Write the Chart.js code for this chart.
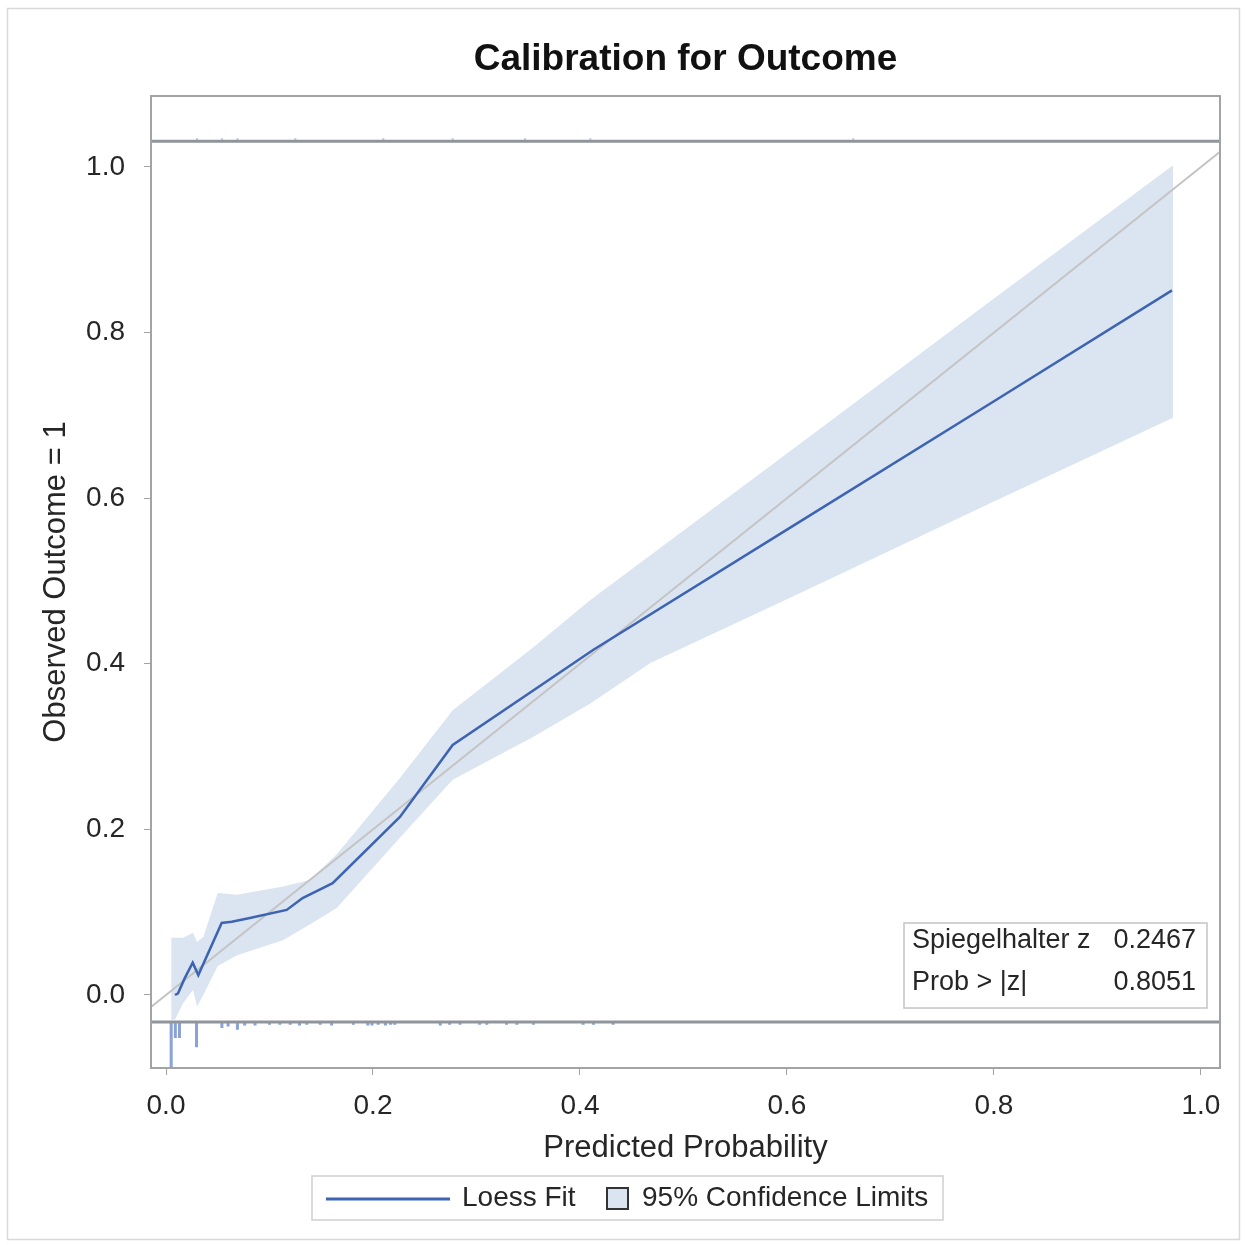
<!DOCTYPE html>
<html><head><meta charset="utf-8">
<script src="https://cdn.jsdelivr.net/npm/chart.js@4.4.1/dist/chart.umd.min.js"></script>
<style>html,body{margin:0;padding:0;background:#fff;}#wrap{width:1247px;height:1245px;position:relative}</style>
</head><body><div id="wrap"><canvas id="c" width="1247" height="1245"></canvas></div>
<script>
const titleText = 'Calibration for Outcome';
const xTitle = 'Predicted Probability';
const yTitle = 'Observed Outcome = 1';
const xTicks = [0, 0.2, 0.4, 0.6, 0.8, 1.0];
const yTicks = [0, 0.2, 0.4, 0.6, 0.8, 1.0];
const xRange = [-0.0145, 1.0184];
const yRange = [-0.0882, 1.0857];

const loessX = [0.0087, 0.0116, 0.018, 0.0258, 0.0312, 0.0538, 0.0635, 0.081, 0.1166, 0.132, 0.161, 0.226, 0.277, 0.413, 0.6, 0.8, 0.972];
const loessY = [0.000, 0.002, 0.020, 0.039, 0.024, 0.087, 0.0885, 0.093, 0.1027, 0.117, 0.135, 0.215, 0.302, 0.417, 0.562, 0.717, 0.851];

const bandX = [0.005, 0.0087, 0.0164, 0.0261, 0.030, 0.036, 0.050, 0.0686, 0.113, 0.139, 0.165, 0.226, 0.277, 0.355, 0.41, 0.468, 0.6, 0.8, 0.973];
const bandLower = [-0.030, -0.030, -0.010, 0.006, -0.014, 0.000, 0.035, 0.048, 0.066, 0.085, 0.105, 0.190, 0.260, 0.312, 0.352, 0.401, 0.478, 0.596, 0.697];
const bandUpper = [0.069, 0.069, 0.069, 0.075, 0.064, 0.070, 0.123, 0.121, 0.131, 0.139, 0.170, 0.262, 0.344, 0.420, 0.477, 0.531, 0.654, 0.841, 1.002];

const refLine = [-0.0145, 1.0184];

const rugBottomBase = -0.0326;
const rug0X = [0.005, 0.009, 0.013, 0.0295, 0.054, 0.060, 0.069, 0.076, 0.086, 0.100, 0.110, 0.120, 0.129, 0.136, 0.149, 0.160, 0.181, 0.195, 0.199, 0.205, 0.212, 0.217, 0.221, 0.265, 0.274, 0.284, 0.303, 0.310, 0.329, 0.339, 0.355, 0.403, 0.413, 0.432];
const rug0Tip = [-0.088, -0.052, -0.052, -0.063, -0.040, -0.038, -0.042, -0.037, -0.037, -0.036, -0.036, -0.036, -0.037, -0.036, -0.036, -0.037, -0.036, -0.037, -0.037, -0.036, -0.037, -0.036, -0.036, -0.037, -0.036, -0.036, -0.036, -0.036, -0.036, -0.036, -0.036, -0.036, -0.036, -0.036];

const rugTopBase = 1.031;
const rug1X = [0.030, 0.054, 0.069, 0.125, 0.210, 0.277, 0.347, 0.410, 0.664];
const rug1Tip = [1.035, 1.035, 1.035, 1.035, 1.035, 1.035, 1.035, 1.035, 1.035];

const statLabels = ['Spiegelhalter z', 'Prob > |z|'];
const statValues = ['0.2467', '0.8051'];
const legendLabels = ['Loess Fit', '95% Confidence Limits'];

const FONT = "'Liberation Sans', Arial, sans-serif";
const LOESS_COLOR = '#3d63b3';
const BAND_COLOR = '#dbe5f1';
const RUG_COLOR = '#8aa2d4';
const TEXT = '#262626';

function pts(xs, ys) { return xs.map((x, i) => ({x: x, y: ys[i]})); }
function needles(xs, base, tips) {
  const out = [];
  xs.forEach((x, i) => { out.push({x: x, y: base}, {x: x, y: tips[i]}, {x: x, y: null}); });
  return out;
}

const deco = {
  id: 'deco',
  beforeDraw(chart) {
    const ctx = chart.ctx;
    ctx.save();
    ctx.fillStyle = '#fff';
    ctx.fillRect(0, 0, chart.width, chart.height);
    ctx.strokeStyle = '#d9d9d9';
    ctx.lineWidth = 1.5;
    ctx.strokeRect(7.5, 8.5, 1232, 1231);
    ctx.restore();
  },
  afterDatasetsDraw(chart) {
    const ctx = chart.ctx, a = chart.chartArea;
    ctx.save();
    ctx.strokeStyle = '#a3a3a3';
    ctx.lineWidth = 2;
    ctx.strokeRect(a.left, a.top, a.right - a.left, a.bottom - a.top);
    ctx.restore();
  },
  afterDraw(chart) {
    const ctx = chart.ctx, a = chart.chartArea;
    ctx.save();
    // title
    ctx.fillStyle = '#111';
    ctx.font = 'bold 37px ' + FONT;
    ctx.textAlign = 'center';
    ctx.textBaseline = 'middle';
    ctx.fillText(titleText, (a.left + a.right) / 2, 60);
    // inset stats table
    ctx.fillStyle = '#fff';
    ctx.fillRect(904, 923, 303, 85);
    ctx.strokeStyle = '#c4c4c4';
    ctx.lineWidth = 1.5;
    ctx.strokeRect(904, 923, 303, 85);
    ctx.fillStyle = TEXT;
    ctx.font = '27px ' + FONT;
    ctx.textBaseline = 'middle';
    const rows = [941, 983];
    statLabels.forEach((t, i) => {
      ctx.textAlign = 'left';
      ctx.fillText(t, 912, rows[i]);
      ctx.textAlign = 'right';
      ctx.fillText(statValues[i], 1196, rows[i]);
    });
    // legend
    ctx.strokeStyle = '#cfcfcf';
    ctx.lineWidth = 1.5;
    ctx.strokeRect(312, 1176, 631, 44);
    ctx.strokeStyle = LOESS_COLOR;
    ctx.lineWidth = 3;
    ctx.beginPath(); ctx.moveTo(326, 1199); ctx.lineTo(450, 1199); ctx.stroke();
    ctx.font = '28px ' + FONT;
    ctx.textAlign = 'left';
    ctx.fillStyle = TEXT;
    ctx.fillText(legendLabels[0], 462, 1198);
    ctx.fillStyle = BAND_COLOR;
    ctx.fillRect(607, 1188, 21, 21);
    ctx.strokeStyle = '#333';
    ctx.lineWidth = 2;
    ctx.strokeRect(607, 1188, 21, 21);
    ctx.fillStyle = TEXT;
    ctx.fillText(legendLabels[1], 642, 1198);
    ctx.restore();
  }
};

Chart.defaults.font.family = FONT;

new Chart(document.getElementById('c'), {
  type: 'line',
  data: {
    datasets: [
      { label: 'Loess Fit', data: pts(loessX, loessY), borderColor: LOESS_COLOR, borderWidth: 2.5, pointRadius: 0, fill: false, tension: 0, order: 0 },
      { label: 'ref', data: pts(refLine, refLine), borderColor: '#c3c3c3', borderWidth: 2, pointRadius: 0, fill: false, order: 1 },
      { label: 'topline', data: pts(xRange, [rugTopBase, rugTopBase]), borderColor: '#8f959b', borderWidth: 3, pointRadius: 0, fill: false, order: 2 },
      { label: 'bottomline', data: pts(xRange, [rugBottomBase, rugBottomBase]), borderColor: '#8f959b', borderWidth: 3, pointRadius: 0, fill: false, order: 2 },
      { label: 'rug0', data: needles(rug0X, rugBottomBase, rug0Tip), borderColor: RUG_COLOR, borderWidth: 3, borderCapStyle: 'butt', pointRadius: 0, fill: false, spanGaps: false, order: 3 },
      { label: 'rug1', data: needles(rug1X, rugTopBase, rug1Tip), borderColor: '#c5cfe3', borderWidth: 2, borderCapStyle: 'butt', pointRadius: 0, fill: false, spanGaps: false, order: 3 },
      { label: 'lower', data: pts(bandX, bandLower), borderWidth: 0, borderColor: 'rgba(0,0,0,0)', pointRadius: 0, fill: false, order: 5 },
      { label: '95% Confidence Limits', data: pts(bandX, bandUpper), borderWidth: 0, borderColor: 'rgba(0,0,0,0)', backgroundColor: BAND_COLOR, pointRadius: 0, fill: '-1', order: 4 }
    ]
  },
  options: {
    responsive: false,
    devicePixelRatio: 1,
    animation: false,
    layout: { padding: { left: 0, right: 27, top: 96, bottom: 0 } },
    plugins: { legend: { display: false }, title: { display: false }, tooltip: { enabled: false } },
    scales: {
      x: {
        type: 'linear', min: xRange[0], max: xRange[1],
        afterBuildTicks: s => { s.ticks = xTicks.map(v => ({value: v})); },
        afterFit: s => { s.height = 177; },
        grid: { drawOnChartArea: false, drawTicks: true, tickLength: 7, color: '#a3a3a3' },
        border: { display: false },
        ticks: { font: { size: 28 }, color: TEXT, padding: 14, maxRotation: 0, autoSkip: false, callback: v => Number(v).toFixed(1) },
        title: { display: true, text: xTitle, font: { size: 31 }, color: TEXT, padding: { top: 0, bottom: 78 } }
      },
      y: {
        type: 'linear', min: yRange[0], max: yRange[1],
        afterBuildTicks: s => { s.ticks = yTicks.map(v => ({value: v})); },
        afterFit: s => { s.width = 151; },
        grid: { drawOnChartArea: false, drawTicks: true, tickLength: 7, color: '#a3a3a3' },
        border: { display: false },
        ticks: { font: { size: 28 }, color: TEXT, padding: 19, autoSkip: false, callback: v => Number(v).toFixed(1) },
        title: { display: true, text: yTitle, font: { size: 31 }, color: TEXT, padding: { top: 38, bottom: 0 } }
      }
    }
  },
  plugins: [deco]
});
</script></body></html>
